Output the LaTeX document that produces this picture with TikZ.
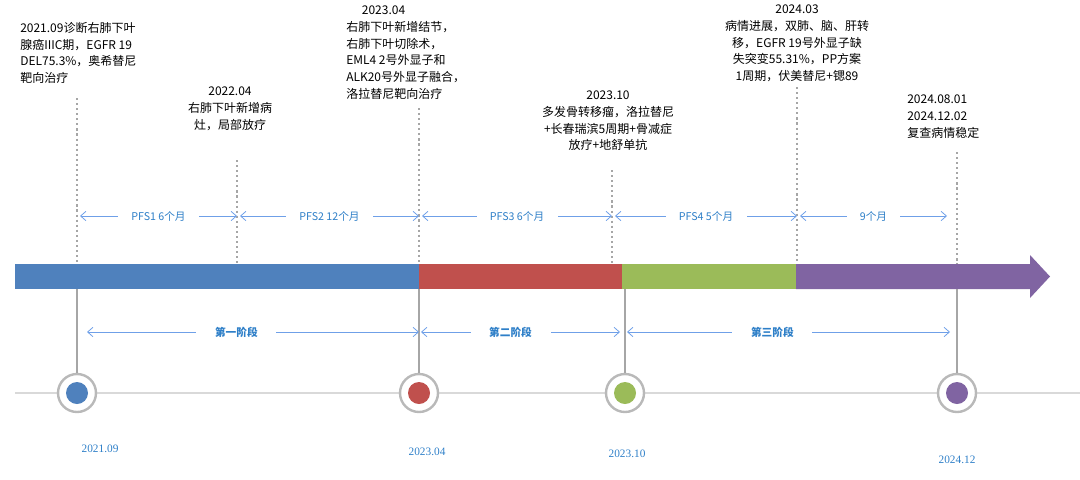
\documentclass[tikz,border=0pt]{standalone}
\usepackage{fontspec}
\setmainfont{Noto Sans CJK SC}
\newfontfamily\dfont{Liberation Serif}
\usetikzlibrary{arrows.meta}
\definecolor{cb}{HTML}{4F81BD}
\definecolor{cr}{HTML}{C0504D}
\definecolor{cg}{HTML}{9BBB59}
\definecolor{cp}{HTML}{8064A2}
\definecolor{ab}{HTML}{6FA0E8}
\definecolor{lb}{HTML}{2E7FC8}
\begin{document}
\begin{tikzpicture}[x=0.75pt,y=-0.75pt,
  txt/.style={font=\fontsize{9}{12.5}\selectfont, inner sep=0pt, align=left},
  ctxt/.style={txt, align=center},
  dotl/.style={draw=gray!70, line width=1.6pt, dash pattern=on 1.6pt off 2.2pt},
  soll/.style={draw=gray!70, line width=2pt},
  arr/.style={draw=ab, line width=0.6pt, -{Straight Barb[length=4pt,width=7pt]}},
  alab/.style={font=\fontsize{8}{9}\selectfont, text=lb, fill=white, inner sep=1pt},
  dlab/.style={font=\dfont\fontsize{8.5}{9}\selectfont, text=lb},
  outc/.style={circle, draw=gray!55, line width=1.8pt, fill=white, minimum size=38*0.75pt, inner sep=0pt},
]
\useasboundingbox (0,0) rectangle (1080,479);
% baseline
\draw[gray!30, line width=2pt] (15,393) -- (1080,393);
% dotted verticals
\foreach \x/\y/\n in {77/98/a,237/160/b,419/108/c,612/170/d,797/87/e,957/152/f}{
  \coordinate (t\n) at (\x,\y); \coordinate (b\n) at (\x,264);
  \draw[dotl] (t\n) -- (b\n);}
% bar
\fill[cb] (15,264) rectangle (419,289);
\fill[cr] (419,264) rectangle (622,289);
\fill[cg] (622,264) rectangle (796,289);
\fill[cp] (796,264) -- (1030,264) -- (1030,255) -- (1050,276.5) -- (1030,298) -- (1030,289) -- (796,289) -- cycle;
% circles + solid lines
\foreach \x/\c/\n in {77/cb/1,419/cr/2,625/cg/3,957/cp/4}{
  \coordinate (s\n) at (\x,289);
  \node[outc] (o\n) at (\x,393) {};
  \fill[\c] (o\n.center) circle (11);
  \draw[soll] (s\n) -- (o\n.north);}
% dates
\node[dlab] at (100,449) {2021.09};
\node[dlab] at (427,452) {2023.04};
\node[dlab] at (627,454) {2023.10};
\node[dlab] at (957,460) {2024.12};
% PFS arrows
\foreach \a/\b/\t in {77/237/PFS1 6个月,237/419/PFS2 12个月,419/612/PFS3 6个月,612/797/PFS4 5个月,797/947/9个月}{
  \coordinate (pa) at (\a+3,216); \coordinate (pb) at (\b,216);
  \path (pa) -- (pb) coordinate[pos=0.5] (pm);
  \draw[arr] (pm) -- (pa); \draw[arr] (pm) -- (pb);
  \node[alab, inner xsep=10pt] at (pm) {\t};}
% stage arrows
\foreach \a/\b/\t in {87/419/第一阶段,421/620/第二阶段,627/950/第三阶段}{
  \coordinate (pa) at (\a,332); \coordinate (pb) at (\b,332);
  \path (pa) -- (pb) coordinate[pos=0.45] (pm);
  \draw[arr] (pm) -- (pa); \draw[arr] (pm) -- (pb);
  \node[alab, inner xsep=14pt, font=\bfseries\fontsize{8}{9}\selectfont] at (pm) {\t};}
% texts
\node[txt, anchor=north west] (n1) at (20,22) {2021.09诊断右肺下叶\\腺癌IIIC期，EGFR 19\\DEL75.3\%，奥希替尼\\靶向治疗};
\node[ctxt, anchor=north] (n2) at (230,87) {2022.04\\右肺下叶新增病\\灶，局部放疗};
\node[txt, anchor=north west] (n3) at (346,6) {\hspace*{1.3em}2023.04\\右肺下叶新增结节，\\右肺下叶切除术，\\EML4 2号外显子和\\ALK20号外显子融合，\\洛拉替尼靶向治疗};
\node[ctxt, anchor=north] (n4) at (608,91) {2023.10\\多发骨转移瘤，洛拉替尼\\+长春瑞滨5周期+骨减症\\放疗+地舒单抗};
\node[ctxt, anchor=north] (n5) at (797,5) {2024.03\\病情进展，双肺、脑、肝转\\移，EGFR 19号外显子缺\\失突变55.31\%，PP方案\\1周期，伏美替尼+锶89};
\node[txt, anchor=north west] (n6) at (907,95) {2024.08.01\\2024.12.02\\复查病情稳定};
\end{tikzpicture}
\end{document}
